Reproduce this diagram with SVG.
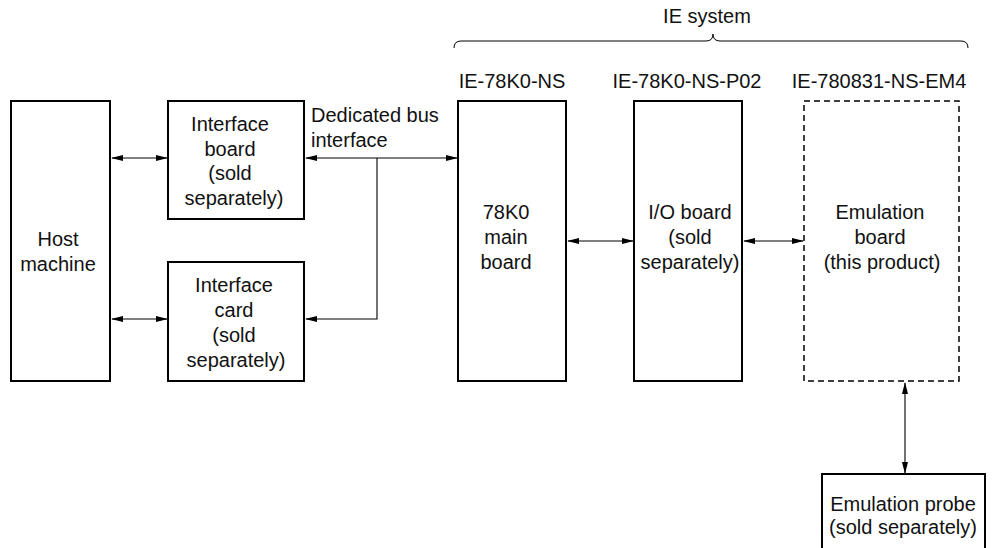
<svg xmlns="http://www.w3.org/2000/svg" width="999" height="548" viewBox="0 0 999 548">
<style>
.box{fill:#fff;stroke:#000;stroke-width:2}
.dash{fill:#fff;stroke:#000;stroke-width:1.5;stroke-dasharray:6 4}
.t{font-family:"Liberation Sans",Arial,sans-serif;font-size:20px;fill:#111;text-anchor:middle}
.l{text-anchor:start}
.c{fill:none;stroke:#000;stroke-width:1.1}
.a{marker-start:url(#ah);marker-end:url(#ah)}
.e{marker-end:url(#ah)}
</style>
<defs>
<marker id="ah" markerUnits="userSpaceOnUse" markerWidth="12" markerHeight="6" refX="11" refY="3" orient="auto-start-reverse">
<path d="M0,0 L12,3 L0,6 z" fill="#000"/>
</marker>
</defs>
<g id="ie-system">
<path d="M454,48 Q454,41 461,41 L706,41 Q713,41 713,34 Q713,41 720,41 L961,41 Q968,41 968,48" fill="none" stroke="#000" stroke-width="1"/>
<text class="t" x="707" y="23">IE system</text>
</g>
<g id="host">
<rect class="box" x="11" y="101" width="99" height="280"/>
<text class="t" x="58" y="246">Host</text>
<text class="t" x="58" y="271">machine</text>
</g>
<g id="iface-board">
<rect class="box" x="168" y="101" width="136" height="118"/>
<text class="t" x="230" y="131">Interface</text>
<text class="t" x="230" y="156">board</text>
<text class="t" x="230" y="180">(sold</text>
<text class="t" x="234" y="205">separately)</text>
</g>
<g id="iface-card">
<rect class="box" x="168" y="262" width="136" height="119"/>
<text class="t" x="234" y="292">Interface</text>
<text class="t" x="234" y="317">card</text>
<text class="t" x="234" y="342">(sold</text>
<text class="t" x="236" y="367">separately)</text>
</g>
<g id="bus-label">
<text class="t l" x="311" y="122">Dedicated bus</text>
<text class="t l" x="311" y="147">interface</text>
</g>
<g id="main-board">
<text class="t" x="512" y="88">IE-78K0-NS</text>
<rect class="box" x="458" y="101" width="108" height="280"/>
<text class="t" x="506" y="219">78K0</text>
<text class="t" x="506" y="244">main</text>
<text class="t" x="506" y="269">board</text>
</g>
<g id="io-board">
<text class="t" x="687" y="88">IE-78K0-NS-P02</text>
<rect class="box" x="634" y="101" width="108" height="280"/>
<text class="t" x="690" y="219">I/O board</text>
<text class="t" x="690" y="244">(sold</text>
<text class="t" x="690" y="269">separately)</text>
</g>
<g id="emu-board">
<text class="t" x="879" y="88">IE-780831-NS-EM4</text>
<rect class="dash" x="804" y="101" width="155" height="280"/>
<text class="t" x="880" y="219">Emulation</text>
<text class="t" x="880" y="244">board</text>
<text class="t" x="882" y="269">(this product)</text>
</g>
<g id="emu-probe">
<rect class="box" x="822" y="474" width="163" height="100"/>
<text class="t" x="903" y="511">Emulation probe</text>
<text class="t" x="903" y="534">(sold separately)</text>
</g>
<g id="connectors">
<line class="c a" x1="112" y1="158" x2="167" y2="158"/>
<line class="c a" x1="112" y1="319" x2="167" y2="319"/>
<line class="c a" x1="306" y1="158" x2="457" y2="158"/>
<polyline class="c e" points="377,158 377,319 306,319"/>
<line class="c a" x1="568" y1="241" x2="633" y2="241"/>
<line class="c a" x1="744" y1="241" x2="803" y2="241"/>
<line class="c a" x1="905" y1="383" x2="905" y2="473"/>
</g>
</svg>
